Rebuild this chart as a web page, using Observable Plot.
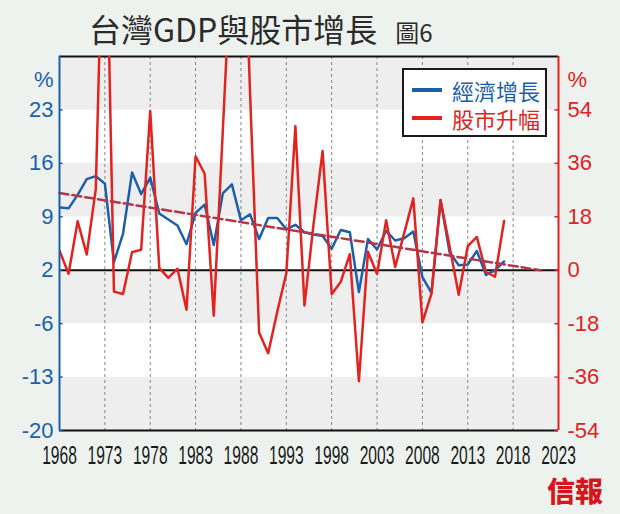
<!DOCTYPE html>
<html>
<head>
<meta charset="utf-8">
<script src="https://cdn.jsdelivr.net/npm/d3@7"></script>
<script src="https://cdn.jsdelivr.net/npm/@observablehq/plot@0.6"></script>
<style>
  html, body { margin: 0; padding: 0; background: #edf2ef; }
  #wrap { position: relative; width: 620px; height: 514px; overflow: hidden; }
  #wrap svg { position: absolute; left: 0; top: 0; }
  #title { position: absolute; left: 89px; top: 10px; white-space: nowrap;
           font-family: "Noto Sans CJK TC", "Noto Sans", sans-serif; color: #2b2b2b; line-height: 36px; }
  #title .main { font-size: 32px; }
  #title .fig { font-size: 24px; margin-left: 18px; }
  #legend { position: absolute; left: 402px; top: 68px; width: 141px; height: 65px;
            border: 2px solid #1a1a1a; background: #ffffff; box-sizing: content-box; }
  .lrow { position: absolute; left: 0; height: 26px; display: flex; align-items: center;
          font-family: "Noto Sans CJK TC", sans-serif; font-size: 22px; line-height: 24px; }
  .lrow .sw { width: 30px; height: 4px; margin-left: 8px; margin-right: 10px; }
  #logo { position: absolute; left: 547px; top: 474px; font-family: "Noto Sans CJK TC", sans-serif;
          font-weight: 900; font-size: 28px; color: #d8151c; line-height: 32px; }
</style>
</head>
<body>
<div id="wrap">
  <div id="title"><span class="main">台灣GDP與股市增長</span><span class="fig">圖6</span></div>
</div>
<script>
// ---- data ----
const years = [1968,1969,1970,1971,1972,1973,1974,1975,1976,1977,
               1978,1979,1980,1981,1982,1983,1984,1985,1986,1987,
               1988,1989,1990,1991,1992,1993,1994,1995,1996,1997,
               1998,1999,2000,2001,2002,2003,2004,2005,2006,2007,
               2008,2009,2010,2011,2012,2013,2014,2015,2016,2017];
// 經濟增長 (%) - left axis
const gdpGrowth = [9.8,9.7,11.5,13.6,14.0,13.0,2.5,6.3,14.5,11.6,
                   13.8,9.0,8.2,7.4,4.9,9.1,10.2,4.8,11.7,12.9,
                   8.1,8.9,5.6,8.4,8.4,6.9,7.5,6.5,6.2,6.0,
                   4.3,6.8,6.5,-1.5,5.6,4.2,6.7,5.4,5.7,6.6,
                   0.5,-1.6,10.8,3.8,2.1,2.2,4.0,0.8,1.4,2.6];
// 股市升幅 (%) - right axis
const stockChange = [6.6,-1.2,16.5,5.3,27.4,145,-7.2,-8.0,6.1,6.9,
                     53.6,0.7,-2.6,0.5,-13.3,38.4,32.5,-15.3,47,110,
                     150,60,-21,-28,-14,-1,48.5,-11.9,15.5,40.2,
                     -8.1,-3.9,5.4,-37.4,6.2,-1.3,16.8,1.1,12.6,24.2,
                     -17.6,-7.9,23.6,8,-8.3,8.1,11.2,-0.6,-2.2,16.6];
// dashed trend (right-axis %)
const trendYears = [1968, 2021];
const trendValues = [26, 0];

// axes
const xDomain = [1968, 2023];
const xTicks = [1968,1973,1978,1983,1988,1993,1998,2003,2008,2013,2018,2023];
const gridYears = [1973,1978,1983,1988,1993,1998,2003,2008,2013,2018];
const rightDomain = [-54, 72];
const leftDomain = [-20, 30];
const rightTicks = [-54,-36,-18,0,18,36,54];
const leftTickLabels = ["-20","-13","-6","2","9","16","23"];
const bandLo = [-54,-36,-18,0,18,36,54];
const bandHi = [-36,-18,0,18,36,54,72];
const bandFill = ["#eeeeee","#ffffff","#eeeeee","#ffffff","#eeeeee","#ffffff","#eeeeee"];
const legendLabels = ["經濟增長","股市升幅"];

const BLUE = "#1b5fad", RED = "#e2231f", TREND = "#b2384b";
const SANS = "Liberation Sans, Arial, sans-serif";
// map left-axis value onto the shared (right-axis) scale
const toRight = g => rightDomain[0] + (g - leftDomain[0]) * (rightDomain[1] - rightDomain[0]) / (leftDomain[1] - leftDomain[0]);

const chart = Plot.plot({
  width: 620, height: 514,
  marginLeft: 59, marginRight: 62, marginTop: 56, marginBottom: 84,
  style: { background: "transparent", fontFamily: SANS, overflow: "visible" },
  x: { domain: xDomain, axis: null },
  y: { domain: rightDomain, axis: null },
  marks: [
    Plot.rect(bandLo, { x1: () => xDomain[0], x2: () => xDomain[1], y1: d => d, y2: (d, i) => bandHi[i], fill: (d, i) => bandFill[i] }),
    Plot.ruleX(gridYears, { stroke: "#858585", strokeWidth: 1, strokeDasharray: "3,3" }),
    Plot.ruleY([0], { stroke: "#111", strokeWidth: 2 }),
    Plot.ruleY(rightDomain, { stroke: "#111", strokeWidth: 2 }),
    Plot.line(gdpGrowth, { x: (d, i) => years[i], y: d => toRight(d), stroke: BLUE, strokeWidth: 2.5, clip: true }),
    Plot.line(stockChange, { x: (d, i) => years[i], y: d => d, stroke: RED, strokeWidth: 2.5, clip: true }),
    Plot.line(trendValues, { x: (d, i) => trendYears[i], y: d => d, stroke: TREND, strokeWidth: 2.5, strokeDasharray: "9,4" }),
    Plot.ruleX([xDomain[0]], { stroke: BLUE, strokeWidth: 2 }),
    Plot.ruleX([xDomain[1]], { stroke: RED, strokeWidth: 2 }),
    Plot.ruleY(rightTicks, { x1: () => xDomain[0], x2: () => xDomain[0] + 0.4, stroke: BLUE, strokeWidth: 1.5 }),
    Plot.ruleY(rightTicks, { x1: () => xDomain[1] - 0.4, x2: () => xDomain[1], stroke: RED, strokeWidth: 1.5 }),
    Plot.text(rightTicks, { y: d => d, text: (d, i) => leftTickLabels[i], frameAnchor: "left", textAnchor: "end", dx: -6, fill: BLUE, fontSize: 22, fontFamily: SANS }),
    Plot.text(rightTicks, { y: d => d, text: d => String(d), frameAnchor: "right", textAnchor: "start", dx: 9, fill: RED, fontSize: 22, fontFamily: SANS }),
    Plot.text(["%"], { frameAnchor: "top-left", textAnchor: "end", dx: -6, dy: 15, fill: BLUE, fontSize: 22, fontFamily: SANS }),
    Plot.text(["%"], { frameAnchor: "top-right", textAnchor: "start", dx: 9, dy: 15, fill: RED, fontSize: 22, fontFamily: SANS }),
    Plot.text(xTicks, { x: d => d, text: d => String(d), frameAnchor: "bottom", dy: 33, fill: "#1a1a1a", fontSize: 26, fontFamily: SANS })
  ]
});

const wrap = document.getElementById("wrap");
wrap.insertBefore(chart, wrap.firstChild);

// condense the year labels horizontally
chart.querySelectorAll("text").forEach(el => {
  if (/^\d{4}$/.test(el.textContent.trim())) {
    const tr = el.getAttribute("transform");
    if (tr) {
      el.setAttribute("transform", tr + " scale(0.6,1)");
    } else {
      const x = +el.getAttribute("x") || 0, y = +el.getAttribute("y") || 0;
      el.setAttribute("x", 0); el.setAttribute("y", 0);
      el.setAttribute("transform", `translate(${x},${y}) scale(0.6,1)`);
    }
  }
});

// legend
const legend = document.createElement("div");
legend.id = "legend";
[[legendLabels[0], BLUE], [legendLabels[1], RED]].forEach(([lab, col], i) => {
  const row = document.createElement("div");
  row.className = "lrow";
  row.style.top = (7 + i * 28) + "px";
  const sw = document.createElement("div");
  sw.className = "sw"; sw.style.background = col;
  const tx = document.createElement("span");
  tx.textContent = lab; tx.style.color = col;
  row.appendChild(sw); row.appendChild(tx);
  legend.appendChild(row);
});
wrap.appendChild(legend);

const logo = document.createElement("div");
logo.id = "logo"; logo.textContent = "信報";
wrap.appendChild(logo);
</script>
</body>
</html>
